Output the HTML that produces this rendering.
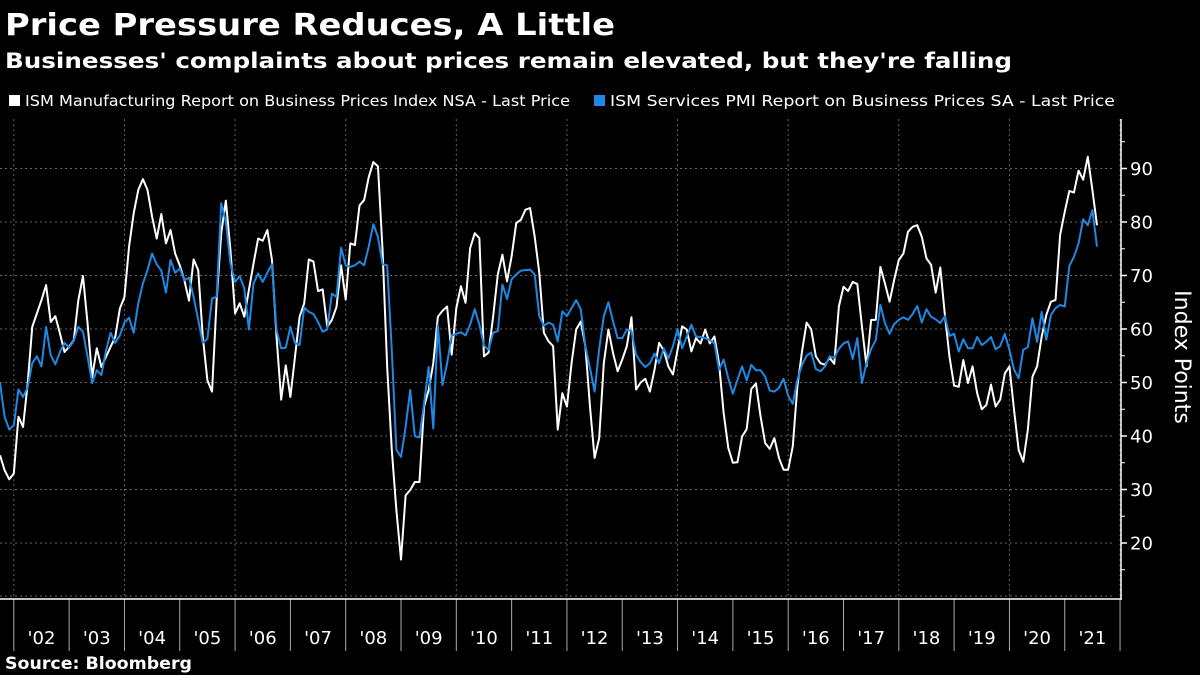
<!DOCTYPE html>
<html><head><meta charset="utf-8"><style>
html,body{margin:0;padding:0;background:#000;}
svg{display:block;font-family:"DejaVu Sans","Liberation Sans",sans-serif;}
</style></head><body>
<svg id="chart" width="1200" height="675" viewBox="0 0 1200 675">
<text x="5" y="35" fill="#fff" font-size="30" font-weight="bold" textLength="610" lengthAdjust="spacingAndGlyphs">Price Pressure Reduces, A Little</text>
<text x="5" y="68" fill="#fff" font-size="21" font-weight="bold" textLength="1007" lengthAdjust="spacingAndGlyphs">Businesses' complaints about prices remain elevated, but they're falling</text>
<g>
<rect x="9" y="95" width="11" height="11" fill="#fff"/>
<text x="25" y="106" fill="#fff" font-size="15" textLength="545" lengthAdjust="spacingAndGlyphs">ISM Manufacturing Report on Business Prices Index NSA - Last Price</text>
<rect x="594" y="95" width="11" height="11" fill="#1e88e5"/>
<text x="610" y="106" fill="#fff" font-size="15" textLength="505" lengthAdjust="spacingAndGlyphs">ISM Services PMI Report on Business Prices SA - Last Price</text>
</g>
<g id="grid"></g>
<g id="axes"></g>
<g id="series"></g>
<text transform="translate(1175,357) rotate(90)" fill="#fff" font-size="22" text-anchor="middle">Index Points</text>
<text x="5" y="669" fill="#fff" font-size="17" font-weight="bold" textLength="187" lengthAdjust="spacingAndGlyphs">Source: Bloomberg</text>
</svg>
<script>
// monthly from Oct 2001 to Aug 2021
const startYear = 2001, startMonth = 9;
const yTicks = [20,30,40,50,60,70,80,90];
const yearLabels = ["'02","'03","'04","'05","'06","'07","'08","'09","'10","'11","'12","'13","'14","'15","'16","'17","'18","'19","'20","'21"];
const manufacturing = [
36.4,33.6,31.9,33,43.6,41.7,49.8,60.4,62.9,65.4,
68.2,61.3,62.4,59.2,55.7,56.7,57.9,65.4,69.9,61,
51,56.4,52.9,54.8,56.7,58.5,63.8,66,75.4,81.6,
86,88,86,81,76.9,81.5,76,78.5,74.1,71.9,
69.1,65.3,73,71,58.5,50.4,48.3,65.4,77.9,84,
74.7,62.9,64.8,62.3,67.3,72.2,76.9,76.5,78.5,72.9,
58.5,46.8,53.2,47.3,54.8,62.3,64.8,73,72.6,67.1,
67.4,60.4,61.7,64.1,71.9,65.5,76,75.7,83.1,84.1,
88.4,91.2,90.4,74.7,52.9,37.4,26.1,16.9,28.9,29.9,
31.4,31.4,45.5,48.6,53.6,62.3,63.4,64.2,55.2,63.9,
68,64.9,75.1,77.9,77,54.9,55.6,62.4,70.2,73.9,
68.9,73.6,79.8,80.4,82.3,82.6,77.3,70.5,59.3,57.7,
56.8,41.2,48,45.5,53.6,59.9,61.4,56.8,45.5,35.9,
39.6,53.6,59.9,55.5,52.1,54.3,56.8,62.2,48.7,50,
50.7,48.3,52.4,57.4,56,53,51.5,56.1,60.5,59.9,
55.8,58.3,57.3,59.9,57.3,58.6,53.6,44.3,37.8,35,
35.1,39.9,41.3,48.8,49.8,43.7,38.7,37.6,39.6,35.9,
33.7,33.7,38.1,49.3,55.8,61.2,59.9,54.9,53.6,53.3,
54.6,53.5,64.2,67.9,67.1,68.8,68.4,60.5,53,61.7,
61.7,71.6,68.5,65.1,69.2,72.9,74.1,78.2,79.1,79.4,
77.2,73.2,72,66.8,71.5,62.6,54.8,49.4,49.2,54.2,
49.9,53,48,45,45.8,49.6,45.5,46.8,51.7,53,
44.9,37.4,35.2,41.2,51.1,53,58.6,62.6,65.1,65.4,
77.6,81.9,85.8,85.5,89.6,87.9,92.2,86,79.4];
const services = [
50,43.6,41.2,42,48.7,47.3,49.1,53.6,54.9,53,
60.4,55.1,53.4,55.7,57.4,56.5,57.8,60.4,59.5,54.8,
49.9,52.3,51.4,56,59.3,57.4,58.8,61.2,62.1,59.3,
64.8,68.5,71,74.1,72.1,70.9,66.8,72.9,70.5,71.3,
69.1,69.6,66,61.7,57.4,58.2,65.7,66,83.5,80,
72.2,68.8,69.9,67.6,59.9,68.5,70.4,68.8,70.5,72.1,
59.8,56.4,56.5,60.4,57.4,57,64,63.2,62.8,61.3,
59.5,59.9,66.6,66,75.2,71.9,71.6,71.9,72.6,71.9,
75.4,79.6,77.2,72.1,71.9,56,37.4,36.1,41.7,48.6,
40,39.7,46.1,52.9,41.4,60.7,49.5,53.6,58.8,59.1,
59.4,58.8,60.8,63.7,60.8,56.9,56.1,59.3,59.6,68.3,
65.6,69.3,70.2,70.9,71,71.1,70.2,62.4,60.6,61.2,
60.8,57.7,63.3,62.4,63.9,65.4,63.7,56.8,52.7,48.3,
56.3,62.4,65,61.4,58.3,58.3,59.9,59.6,55.2,53.8,
52.9,53.6,55.4,53.6,56.4,54.5,56.8,60,56.4,58.6,
60.8,58.6,58.5,58.3,57.9,57.3,52.4,54.3,50.8,47.9,
50.5,53,50.4,53.3,52.3,52.3,51.1,48.5,48.3,49,
50.7,47.5,46,50.5,53.3,55,55.6,52.5,52.1,53,
54.9,54.6,56.3,57.3,57.7,54.4,58.3,49.9,53.6,56.3,
57.9,64.5,61.1,59.1,60.9,61.7,62.2,61.7,62.8,64.3,
61.2,63.7,62.3,61.8,61.1,62.4,58.7,59.1,55.8,58.1,
56.4,56.4,58.5,57,57.6,58.5,56.2,56.8,59.1,56.1,
52.4,50.8,56.1,56.6,62,57.6,63.2,58,62.6,63.9,
64.5,64.2,71.8,73.5,76,80.5,79.4,82.2,75.4];

const NS = "http://www.w3.org/2000/svg";
const PX_PER_MONTH = 1097 / 238;
function xOfMonth(m){ return m * PX_PER_MONTH; }
function xOfYear(y){ return xOfMonth((y - startYear) * 12 - startMonth); }
function yScale(v){ return 168.5 + (90 - v) * 5.35; }
function mk(tag, attrs, parent){ const e = document.createElementNS(NS, tag); for (const k in attrs) e.setAttribute(k, attrs[k]); parent.appendChild(e); return e; }

const grid = document.getElementById('grid');
const axes = document.getElementById('axes');
const series = document.getElementById('series');

yTicks.forEach(function(v){
  const g = mk('line', {x1:0, x2:1115, y1:yScale(v), y2:yScale(v), stroke:'#666', 'stroke-width':1, 'stroke-dasharray':'2,3'}, grid);
  
  
  const t = mk('line', {x1:1121, x2:1127, y1:yScale(v), y2:yScale(v), stroke:'#fff', 'stroke-width':1.5}, axes);
  
  
  const lb = mk('text', {x:1130, y:yScale(v) + 6.5, fill:'#fff', 'font-size':18}, axes);
  lb.textContent = v;
  
  
});
for (let v = 15; v <= 95; v += 10) {
  const t = mk('line', {x1:1121, x2:1125, y1:yScale(v), y2:yScale(v), stroke:'#fff', 'stroke-width':1}, axes);
  
  
}
mk('line', {x1:0, x2:1115, y1:596, y2:596, stroke:'#666', 'stroke-width':1, 'stroke-dasharray':'2,3'}, grid);
for (let y = 2002; y <= 2022; y += 2) {
  const g = mk('line', {x1:xOfYear(y), x2:xOfYear(y), y1:119, y2:597, stroke:'#666', 'stroke-width':1, 'stroke-dasharray':'2,3'}, grid);
  
  
}
for (let y = 2002; y <= 2022; y++) {
  const t = mk('line', {x1:xOfYear(y), x2:xOfYear(y), y1:599, y2:651, stroke:'#aaa', 'stroke-width':1}, axes);
  
  
}
yearLabels.forEach(function(lbl, k){
  const cx = xOfYear(2002 + k) + 6 * PX_PER_MONTH;
  const t = mk('text', {x:cx, y:644, fill:'#fff', 'font-size':18, 'text-anchor':'middle'}, axes);
  t.textContent = lbl;
  
  
});
const xa = mk('line', {x1:0, x2:1122, y1:599, y2:599, stroke:'#fff', 'stroke-width':1.5}, axes);


const ya = mk('line', {x1:1121, x2:1121, y1:119, y2:599, stroke:'#fff', 'stroke-width':1.5}, axes);



function path(vals){ return vals.map(function(v, i){ return (i ? 'L' : 'M') + xOfMonth(i).toFixed(2) + ',' + yScale(v).toFixed(2); }).join(''); }
const pw = mk('path', {d:path(manufacturing), fill:'none', stroke:'#fff', 'stroke-width':2, 'stroke-linejoin':'round'}, series);


const pb = mk('path', {d:path(services), fill:'none', stroke:'#1e88e5', 'stroke-width':2, 'stroke-linejoin':'round'}, series);


</script>
</body></html>
